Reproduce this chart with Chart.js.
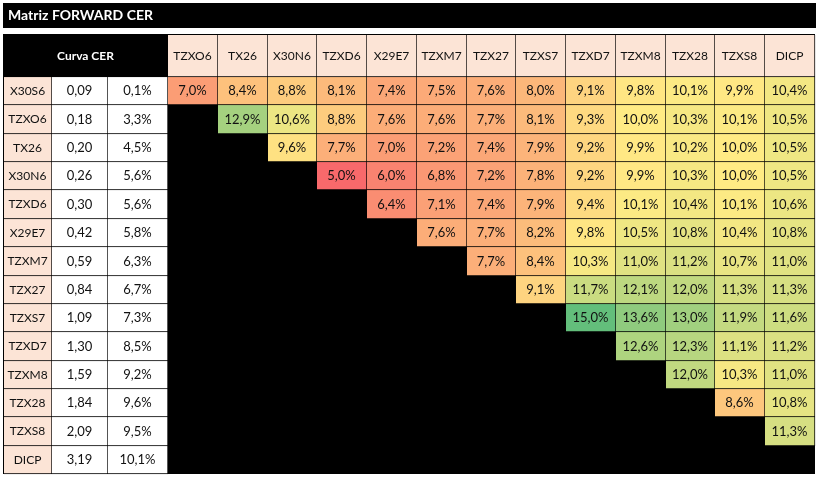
<!DOCTYPE html>
<html>
<head>
<meta charset="utf-8">
<script src="https://cdn.jsdelivr.net/npm/chart.js@4.4.1/dist/chart.umd.min.js"></script>
<style>
html,body{margin:0;padding:0;background:#fff;}
#wrap{position:relative;width:829px;height:478px;}
</style>
</head>
<body>
<div id="wrap"><canvas id="c"></canvas></div>
<script>
// ---------- DATA ----------
const titleText = 'Matriz FORWARD CER';
const cornerLabel = 'Curva CER';
const rowTickers = ['X30S6','TZXO6','TX26','X30N6','TZXD6','X29E7','TZXM7','TZX27','TZXS7','TZXD7','TZXM8','TZX28','TZXS8','DICP'];
const colTickers = ['TZXO6','TX26','X30N6','TZXD6','X29E7','TZXM7','TZX27','TZXS7','TZXD7','TZXM8','TZX28','TZXS8','DICP'];
const durations = [0.09,0.18,0.20,0.26,0.30,0.42,0.59,0.84,1.09,1.30,1.59,1.84,2.09,3.19];
const cerYields = [0.1,3.3,4.5,5.6,5.6,5.8,6.3,6.7,7.3,8.5,9.2,9.6,9.5,10.1];
// forward rates, each row starts at the column right after its own ticker
const fwdX30S6 = [7.0,8.4,8.8,8.1,7.4,7.5,7.6,8.0,9.1,9.8,10.1,9.9,10.4];
const fwdTZXO6 = [12.9,10.6,8.8,7.6,7.6,7.7,8.1,9.3,10.0,10.3,10.1,10.5];
const fwdTX26  = [9.6,7.7,7.0,7.2,7.4,7.9,9.2,9.9,10.2,10.0,10.5];
const fwdX30N6 = [5.0,6.0,6.8,7.2,7.8,9.2,9.9,10.3,10.0,10.5];
const fwdTZXD6 = [6.4,7.1,7.4,7.9,9.4,10.1,10.4,10.1,10.6];
const fwdX29E7 = [7.6,7.7,8.2,9.8,10.5,10.8,10.4,10.8];
const fwdTZXM7 = [7.7,8.4,10.3,11.0,11.2,10.7,11.0];
const fwdTZX27 = [9.1,11.7,12.1,12.0,11.3,11.3];
const fwdTZXS7 = [15.0,13.6,13.0,11.9,11.6];
const fwdTZXD7 = [12.6,12.3,11.1,11.2];
const fwdTZXM8 = [12.0,10.3,11.0];
const fwdTZX28 = [8.6,10.8];
const fwdTZXS8 = [11.3];
const fwdDICP  = [];
const forwardRows = [fwdX30S6,fwdTZXO6,fwdTX26,fwdX30N6,fwdTZXD6,fwdX29E7,fwdTZXM7,fwdTZX27,fwdTZXS7,fwdTZXD7,fwdTZXM8,fwdTZX28,fwdTZXS8,fwdDICP];

// ---------- LAYOUT / STYLE ----------
const FONT = 'Lato';
const NUM_FONT_SIZE = 13;
const LABEL_FONT_SIZE = 12;
const TABLE_W = 811, TABLE_H = 439, HEADER_H = 42;
const LEFT_COLS = [48, 56, 60];
const PEACH = '#FCE4D6';
const TEXT = '#111111';

const colEdges = (function(){
  const e = [0];
  LEFT_COLS.forEach(w => e.push(e[e.length-1] + w));
  const start = e[e.length-1];
  const w = (TABLE_W - start) / colTickers.length;
  for (let k = 1; k <= colTickers.length; k++) e.push(Math.round(start + k*w));
  return e;
})();
const rowEdges = (function(){
  const e = [0, HEADER_H];
  const h = (TABLE_H - HEADER_H) / rowTickers.length;
  for (let i = 1; i <= rowTickers.length; i++) e.push(Math.round(HEADER_H + i*h));
  return e;
})();

// Excel-like 3 colour scale: min red, median yellow, max green
const allFwd = forwardRows.flat();
const sortedFwd = allFwd.slice().sort((a,b)=>a-b);
const vMin = sortedFwd[0], vMax = sortedFwd[sortedFwd.length-1];
const vMid = sortedFwd.length % 2 ? sortedFwd[(sortedFwd.length-1)/2]
           : (sortedFwd[sortedFwd.length/2-1] + sortedFwd[sortedFwd.length/2]) / 2;
const C_LOW = [248,105,107], C_MID = [255,235,132], C_HIGH = [99,190,123];
function mix(a,b,t){ return a.map((v,i)=>Math.round(v + (b[i]-v)*t)); }
function heat(v){
  let c;
  if (v <= vMid) c = mix(C_LOW, C_MID, (v - vMin) / (vMid - vMin || 1));
  else c = mix(C_MID, C_HIGH, (v - vMid) / (vMax - vMid || 1));
  return 'rgb(' + c.join(',') + ')';
}
function fmt(v, d){ return v.toFixed(d).replace('.', ','); }

function cell(c0, c1, r, t, bg, opts){
  const o = opts || {};
  return {x: [colEdges[c0], colEdges[c1]], y: (rowEdges[r] + rowEdges[r+1]) / 2, t: t, bg: bg,
          tc: o.tc || TEXT, bold: !!o.bold, fs: o.fs || NUM_FONT_SIZE};
}

const datasets = [];
// header row
datasets.push({
  label: 'header',
  data: [cell(0, 3, 0, cornerLabel, '#000000', {tc: '#ffffff', bold: true, fs: LABEL_FONT_SIZE})]
        .concat(colTickers.map((t,k) => cell(3+k, 4+k, 0, t, PEACH, {fs: LABEL_FONT_SIZE}))),
  barThickness: rowEdges[1] - rowEdges[0]
});
// body rows
rowTickers.forEach((tk, i) => {
  const r = i + 1;
  const data = [
    cell(0, 1, r, tk, PEACH, {fs: LABEL_FONT_SIZE}),
    cell(1, 2, r, fmt(durations[i], 2), '#ffffff'),
    cell(2, 3, r, fmt(cerYields[i], 1) + '%', '#ffffff')
  ];
  forwardRows[i].forEach((v, j) => {
    const c = 3 + i + j;
    data.push(cell(c, c+1, r, fmt(v, 1) + '%', heat(v)));
  });
  datasets.push({label: tk, data: data, barThickness: rowEdges[r+1] - rowEdges[r]});
});
datasets.forEach(ds => Object.assign(ds, {
  grouped: false,
  clip: 12,
  backgroundColor: ctx => ctx.raw ? ctx.raw.bg : '#fff',
  borderColor: '#000000',
  borderWidth: {top: 0, left: 0, right: 1, bottom: 1},
  borderSkipped: false
}));

const tableBackground = {
  id: 'tableBackground',
  beforeDraw(chart){
    const ctx = chart.ctx, tb = chart.titleBlock;
    ctx.save();
    ctx.fillStyle = '#000';
    ctx.fillRect(tb.left - 5, tb.top, tb.width + 6, 25);
    ctx.restore();
  },
  beforeDatasetsDraw(chart){
    const ctx = chart.ctx, xs = chart.scales.x, ys = chart.scales.y;
    const l = xs.getPixelForValue(0) - 1, r = xs.getPixelForValue(TABLE_W);
    const t = ys.getPixelForValue(0) - 1, b = ys.getPixelForValue(TABLE_H);
    ctx.save();
    ctx.fillStyle = '#000';
    ctx.fillRect(l, t, r - l, b - t);
    ctx.restore();
  }
};
const cellText = {
  id: 'cellText',
  afterDatasetsDraw(chart){
    const ctx = chart.ctx;
    ctx.save();
    ctx.textAlign = 'center';
    ctx.textBaseline = 'middle';
    chart.data.datasets.forEach((ds, di) => {
      const meta = chart.getDatasetMeta(di);
      meta.data.forEach((el, j) => {
        const raw = ds.data[j];
        const p = el.getCenterPoint();
        ctx.fillStyle = raw.tc;
        ctx.font = (raw.bold ? 'bold ' : '') + raw.fs + 'px ' + FONT;
        ctx.fillText(raw.t, p.x - 0.5, p.y);
      });
    });
    ctx.restore();
  }
};

function make(){
  Chart.defaults.font.family = FONT;
  new Chart(document.getElementById('c'), {
    type: 'bar',
    data: {datasets: datasets},
    options: {
      responsive: true,
      maintainAspectRatio: false,
      animation: false,
      events: [],
      indexAxis: 'y',
      layout: {padding: {left: 8, right: 14, top: 3, bottom: 4}},
      scales: {
        x: {type: 'linear', min: 4, max: TABLE_W, display: false, offset: false},
        y: {type: 'linear', min: 0, max: TABLE_H, reverse: true, display: false, offset: false}
      },
      plugins: {
        legend: {display: false},
        tooltip: {enabled: false},
        title: {
          display: true,
          text: titleText,
          align: 'start',
          color: '#ffffff',
          font: {family: FONT, size: 14, weight: 'bold'},
          padding: {top: 4, bottom: 11.2}
        }
      }
    },
    plugins: [tableBackground, cellText]
  });
}
if (document.fonts && document.fonts.load) {
  Promise.all([document.fonts.load('13px Lato'), document.fonts.load('bold 13px Lato')]).then(make, make);
} else { make(); }
</script>
</body>
</html>
